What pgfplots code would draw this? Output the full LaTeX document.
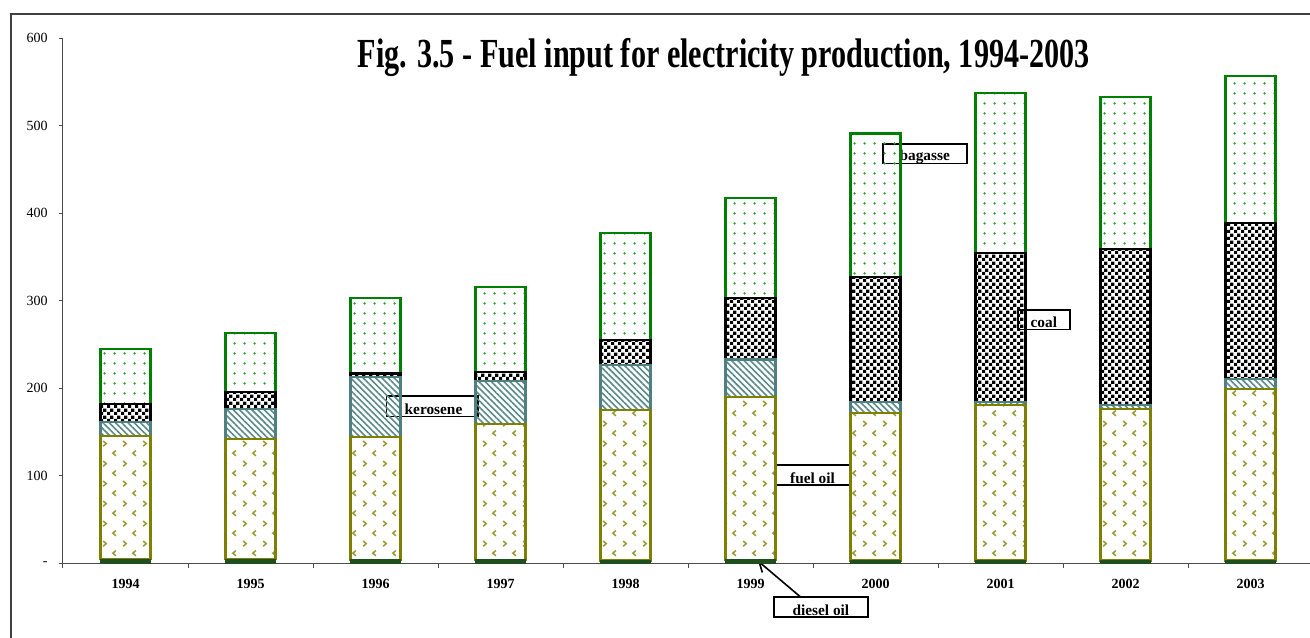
\documentclass[border=0pt]{standalone}
\usepackage{pgfplots}
\pgfplotsset{compat=1.18}
\usepackage{fontspec}
\setmainfont{Liberation Serif}
\usetikzlibrary{patterns,patterns.meta,arrows.meta}

\definecolor{bagline}{HTML}{008000}
\definecolor{bagdot}{HTML}{2EA02E}
\definecolor{fuelline}{HTML}{808000}
\definecolor{fueldot}{HTML}{9A9A35}
\definecolor{keroline}{HTML}{4F7F7F}
\definecolor{kerohatch}{HTML}{5A8A8A}
\definecolor{dieselc}{HTML}{1F4F1F}

\pgfdeclarepattern{
  name=bagdots, type=uncolored,
  bottom left={\pgfpoint{0pt}{0pt}}, top right={\pgfpoint{7.5pt}{7.5pt}},
  tile size={\pgfpoint{7.5pt}{7.5pt}},
  code={\pgfpathcircle{\pgfpoint{3.75pt}{3.75pt}}{1.05pt}\pgfusepath{fill}}
}
\pgfdeclarepattern{
  name=chev, type=uncolored,
  bottom left={\pgfpoint{0pt}{0pt}}, top right={\pgfpoint{15pt}{15pt}},
  tile size={\pgfpoint{15pt}{15pt}},
  code={
    \pgfsetlinewidth{1.2pt}
    \pgfpathmoveto{\pgfpoint{2.5pt}{13.3pt}}\pgfpathlineto{\pgfpoint{4.9pt}{11.25pt}}\pgfpathlineto{\pgfpoint{2.5pt}{9.2pt}}
    \pgfpathmoveto{\pgfpoint{12.5pt}{5.8pt}}\pgfpathlineto{\pgfpoint{10.1pt}{3.75pt}}\pgfpathlineto{\pgfpoint{12.5pt}{1.7pt}}
    \pgfusepath{stroke}
  }
}
\pgfdeclarepattern{
  name=checker, type=uncolored,
  bottom left={\pgfpoint{0pt}{0pt}}, top right={\pgfpoint{5.4pt}{5.4pt}},
  tile size={\pgfpoint{5.4pt}{5.4pt}},
  code={\pgfpathrectangle{\pgfpointorigin}{\pgfpoint{2.7pt}{2.7pt}}\pgfpathrectangle{\pgfpoint{2.7pt}{2.7pt}}{\pgfpoint{2.7pt}{2.7pt}}\pgfusepath{fill}}
}

\pgfplotstableread{
x diesel fuel kero coal bagasse
0 5   140.5 16.5 19.7  63.3
1 5   136.8 34.2 19.4  67.6
2 4   140.8 68.4 3.8   86.0
3 4   155.2 49.1 10.7  97.0
4 3.5 171.5 51.6 28.4  122.6
5 4   186.4 42.6 70.4  114.2
6 3.5 168.0 13.2 142.7 163.6
7 3.5 177.9 3.2  170.0 182.6
8 3.5 172.5 5.4  178.1 173.5
9 3.5 196.2 11.0 177.8 168.0
}\datatable

\begin{document}
\begin{tikzpicture}
\useasboundingbox (0,0) rectangle (982.5pt,477.75pt);
\draw[line width=0.9pt, black!75] (8.25pt,-5pt) -- (8.25pt,467.25pt) -- (990pt,467.25pt);
\node[anchor=base, font=\bfseries\fontsize{31}{34}\selectfont, xscale=0.73] at (542.8pt,427.1pt) {Fig. 3.5 - Fuel input for electricity production, 1994-2003};
\begin{axis}[
  at={(47.25pt,55.125pt)}, anchor=south west,
  scale only axis, width=937.5pt, height=394.125pt,
  ybar stacked, bar width=37.5pt,
  xmin=-0.5, xmax=9.5, ymin=0, ymax=600,
  axis lines=left,
  axis line style={-, draw=black!70, line width=0.75pt},
  tick style={draw=black!70, line width=0.75pt},
  tick align=outside, major tick length=3pt,
  xtick={-0.5,0.5,...,9.5},
  x tick label as interval,
  xticklabels={1994,1995,1996,1997,1998,1999,2000,2001,2002,2003},
  xticklabel style={font=\bfseries\fontsize{10.5}{12}\selectfont, yshift=-5pt},
  ytick={0,100,...,600},
  yticklabels={-,100,200,300,400,500,600},
  yticklabel style={font=\fontsize{10.5}{12}\selectfont, xshift=-5pt},
  clip=false,
]
\addplot[fill=dieselc, draw=dieselc, line width=0.8pt] table[x=x,y=diesel]{\datatable};
\addplot[draw=fuelline, line width=1.6pt, preaction={pattern=chev, pattern color=fueldot}] table[x=x,y=fuel]{\datatable};
\addplot[draw=keroline, line width=1.6pt, preaction={pattern={Lines[angle=-45,distance=3.3pt,line width=1.2pt]}, pattern color=kerohatch}] table[x=x,y=kero]{\datatable};
\addplot[draw=black, line width=1.6pt, preaction={pattern=checker, pattern color=black}] table[x=x,y=coal]{\datatable};
\addplot[draw=bagline, line width=1.6pt, preaction={pattern=bagdots, pattern color=bagdot}] table[x=x,y=bagasse]{\datatable};

\tikzset{lbox/.style={draw=black, line width=1.2pt, inner sep=0pt}, ltext/.style={font=\bfseries\fontsize{11.5}{13}\selectfont, yshift=-2pt}}
\node[lbox, minimum width=68.5pt, minimum height=15.5pt] at (axis cs:2.454,179.5) {};
\node[ltext] at (axis cs:2.464,179.5) {kerosene};
\node[lbox, minimum width=63pt, minimum height=14.5pt] at (axis cs:6.394,467.9) {};
\node[ltext] at (axis cs:6.394,467.9) {bagasse};
\node[lbox, minimum width=56.25pt, minimum height=15pt] at (axis cs:5.496,101) {};
\node[ltext] at (axis cs:5.496,101) {fuel oil};
\node[lbox, minimum width=39.2pt, minimum height=14.5pt] at (axis cs:7.347,278.4) {};
\node[ltext] at (axis cs:7.347,278.4) {coal};
\node[lbox, minimum width=70.3pt, minimum height=15pt] at (axis cs:5.563,-50) {};
\node[ltext] at (axis cs:5.563,-50) {diesel oil};
\draw[line width=1.2pt, -{Straight Barb[length=7pt,width=9pt]}] (axis cs:5.40,-38.2) -- (axis cs:5.06,2.9);
\end{axis}
\end{tikzpicture}
\end{document}
